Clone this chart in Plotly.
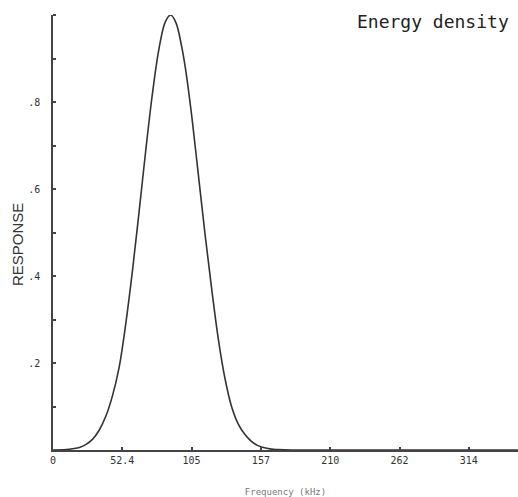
import plotly.graph_objects as go

# Frequency (kHz) and response values
freq = [0, 10, 15, 20, 25, 30, 35, 40, 45, 50, 55, 60, 65, 70, 75, 80, 85, 89,
        93, 97, 100, 105, 110, 115, 120, 125, 130, 135, 140, 145, 150, 155, 160,
        165, 170, 180, 200, 250, 300, 352]
response = [0.0, 0.001, 0.003, 0.006, 0.013, 0.025, 0.046, 0.078, 0.125, 0.19,
            0.29, 0.41, 0.545, 0.685, 0.815, 0.92, 0.985, 1.0,
            0.982, 0.932, 0.88, 0.765, 0.63, 0.495, 0.37, 0.255, 0.165, 0.1, 0.06,
            0.036, 0.02, 0.01, 0.005, 0.002, 0.001, 0.0, 0.0, 0.0, 0.0, 0.0]

x_tickvals = [0, 52.4, 104.8, 157.2, 209.6, 262, 314.4]
x_ticktext = ["0", "52.4", "105", "157", "210", "262", "314"]
y_tickvals = [0.2, 0.4, 0.6, 0.8]
y_ticktext = [".2", ".4", ".6", ".8"]

fig = go.Figure()
fig.add_trace(go.Scatter(x=freq, y=response, mode="lines",
                         line=dict(color="#333333", width=1.6, shape="spline", smoothing=1.0),
                         hoverinfo="skip", showlegend=False))

tick_font = dict(family="DejaVu Sans Mono", size=10, color="#333333")

fig.update_layout(
    width=518, height=497,
    margin=dict(l=53, r=0, t=15, b=47),
    paper_bgcolor="white", plot_bgcolor="white",
    xaxis=dict(range=[0, 351.6], tickvals=x_tickvals, ticktext=x_ticktext,
               ticks="inside", ticklen=3, tickwidth=1.5, tickcolor="#444",
               showline=True, linecolor="#444", linewidth=1.5,
               showgrid=False, zeroline=False, tickfont=tick_font,
               title=dict(text="Frequency (kHz)",
                          font=dict(family="DejaVu Sans Mono", size=9, color="#777"),
                          standoff=24),
               minor=dict(ticks="", showgrid=False)),
    yaxis=dict(range=[0, 1], tickvals=y_tickvals, ticktext=y_ticktext,
               ticks="", showline=True, linecolor="#444", linewidth=1.5,
               showgrid=False, zeroline=False, tickfont=tick_font,
               ticklabelstandoff=9,
               minor=dict(tickvals=[0.1, 0.2, 0.3, 0.4, 0.5, 0.6, 0.7, 0.8, 0.9, 1.0],
                          ticks="inside", ticklen=3, tickwidth=1.5, tickcolor="#444",
                          showgrid=False)),
    annotations=[
        dict(text="Energy density", xref="paper", yref="paper",
             x=0.985, y=0.985, xanchor="right", yanchor="middle",
             showarrow=False,
             font=dict(family="DejaVu Sans Mono", size=18, color="#222")),
        dict(text="RESPONSE", xref="paper", yref="paper",
             x=-36 / 465, y=0.471, xanchor="center", yanchor="middle",
             textangle=-90, showarrow=False,
             font=dict(family="Liberation Sans", size=15, color="#333")),
    ],
)

fig.write_html("out.html")
